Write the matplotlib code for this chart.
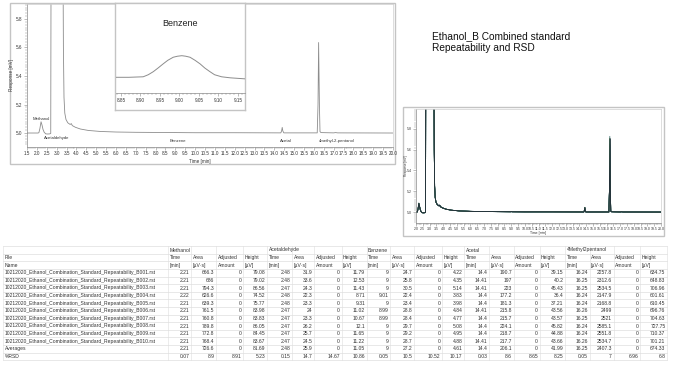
import matplotlib
matplotlib.use("Agg")
import matplotlib.pyplot as plt
from matplotlib.patches import Rectangle
from matplotlib.ticker import MultipleLocator, FormatStrFormatter

plt.rcParams['font.family'] = ['Liberation Sans', 'DejaVu Sans']

W, H = 673, 368

# ------------------------------------------------------------------ data
compounds = ["Methanol", "Acetaldehyde", "Benzene", "Acetal", "4Methyl2pentanol"]
sub_headers_1 = ["Time", "Area", "Adjusted", "Height"]
sub_headers_2 = ["[min]", "[µV·s]", "Amount", "[µV]"]

file_names = [
    "10212020_Ethanol_Combination_Standard_Repeatability_B001.rst",
    "10212020_Ethanol_Combination_Standard_Repeatability_B002.rst",
    "10212020_Ethanol_Combination_Standard_Repeatability_B003.rst",
    "10212020_Ethanol_Combination_Standard_Repeatability_B004.rst",
    "10212020_Ethanol_Combination_Standard_Repeatability_B005.rst",
    "10212020_Ethanol_Combination_Standard_Repeatability_B006.rst",
    "10212020_Ethanol_Combination_Standard_Repeatability_B007.rst",
    "10212020_Ethanol_Combination_Standard_Repeatability_B008.rst",
    "10212020_Ethanol_Combination_Standard_Repeatability_B009.rst",
    "10212020_Ethanol_Combination_Standard_Repeatability_B010.rst",
]

methanol_time = [2.21, 2.21, 2.21, 2.22, 2.21, 2.21, 2.21, 2.21, 2.21, 2.21]
methanol_area = [666.3, 686, 794.3, 626.6, 639.3, 761.5, 760.8, 789.8, 772.8, 768.4]
methanol_adj = [0, 0, 0, 0, 0, 0, 0, 0, 0, 0]
methanol_height = [79.08, 79.02, 86.56, 74.52, 75.77, 83.98, 83.83, 86.05, 84.45, 83.67]

acetaldehyde_time = [2.48, 2.48, 2.47, 2.48, 2.48, 2.47, 2.47, 2.47, 2.47, 2.47]
acetaldehyde_area = [31.9, 33.6, 24.3, 22.3, 23.3, 24, 23.3, 26.2, 25.7, 24.5]
acetaldehyde_adj = [0, 0, 0, 0, 0, 0, 0, 0, 0, 0]
acetaldehyde_height = [11.79, 12.53, 11.43, 8.71, 9.31, 11.02, 10.67, 12.1, 11.65, 11.22]

benzene_time = [9, 9, 9, 9.01, 9, 8.99, 8.99, 9, 9, 9]
benzene_area = [24.7, 25.8, 30.5, 22.4, 23.4, 28.8, 28.4, 29.7, 29.2, 28.7]
benzene_adj = [0, 0, 0, 0, 0, 0, 0, 0, 0, 0]
benzene_height = [4.22, 4.35, 5.14, 3.83, 3.98, 4.84, 4.77, 5.08, 4.95, 4.88]

acetal_time = [14.4, 14.41, 14.41, 14.4, 14.4, 14.41, 14.4, 14.4, 14.4, 14.41]
acetal_area = [190.7, 197, 223, 177.2, 181.3, 215.8, 215.7, 224.1, 218.7, 217.7]
acetal_adj = [0, 0, 0, 0, 0, 0, 0, 0, 0, 0]
acetal_height = [39.15, 40.2, 45.43, 36.4, 37.21, 43.56, 43.57, 45.82, 44.88, 43.66]

methylpentanol_time = [16.24, 16.25, 16.25, 16.24, 16.24, 16.26, 16.25, 16.24, 16.24, 16.26]
methylpentanol_area = [2257.8, 2312.6, 2534.5, 2147.9, 2168.8, 2499, 2521, 2585.1, 2551.8, 2534.7]
methylpentanol_adj = [0, 0, 0, 0, 0, 0, 0, 0, 0, 0]
methylpentanol_height = [634.75, 648.83, 706.96, 601.61, 610.45, 696.76, 704.63, 727.75, 710.37, 701.21]

averages_row = [2.21, 726.6, 0, 81.69, 2.48, 25.9, 0, 11.05, 9, 27.2, 0, 4.61,
                14.4, 206.1, 0, 41.99, 16.25, 2407.3, 0, 674.33]
rsd_row = [0.07, 8.9, 8.91, 5.23, 0.15, 14.7, 14.67, 10.86, 0.05, 10.5, 10.52, 10.17,
           0.03, 8.6, 8.65, 8.25, 0.05, 7, 6.96, 6.8]

# chromatogram trace (baseline, solvent peak and peak flanks), time [min] / response [mV]
chrom_t = [1.5, 2.05, 2.10, 2.15, 2.26, 2.31, 2.37, 2.45, 2.55, 2.65, 2.70,
           2.72, 3.31, 3.34, 3.37, 3.41, 3.47, 3.56, 3.68, 3.74, 3.79, 3.95,
           4.2, 4.6, 5.2, 6.0, 7.0, 8.0, 8.95, 9.05, 10.0, 12.0, 14.33, 14.37,
           14.43, 14.48, 16.17, 16.21, 16.28, 16.31, 16.36, 17.0, 17.1, 17.2, 20.0]
chrom_v = [5.000, 5.000, 5.002, 5.030, 5.055, 5.025, 5.005, 4.994, 4.993, 4.994, 4.997,
           6.5, 6.5, 5.60, 5.25, 5.14, 5.095, 5.072, 5.060, 5.066, 5.052, 5.040,
           5.028, 5.018, 5.011, 5.007, 5.005, 5.004, 5.003, 5.003, 5.002, 5.002, 5.001, 5.015,
           5.015, 5.001, 5.001, 5.20, 5.20, 5.010, 5.003, 5.001, 5.003, 5.001, 5.000]

# benzene close-up (inset)
benz_t = [8.836, 8.870, 8.907, 8.920, 8.933, 8.945, 8.958, 8.970, 8.984, 8.995,
          9.006, 9.016, 9.027, 9.040, 9.053, 9.065, 9.078, 9.090, 9.108, 9.130, 9.168]
benz_v = [5.0000, 5.0000, 5.0001, 5.0005, 5.0011, 5.0018, 5.0026, 5.0033, 5.0039, 5.0041,
          5.0042, 5.0041, 5.0039, 5.0033, 5.0026, 5.0018, 5.0011, 5.0005, 5.0001, 4.9999, 4.9997]

# ------------------------------------------------------------------ helpers
fig = plt.figure(figsize=(W / 100, H / 100), dpi=100)
fig.patch.set_facecolor("white")


def px_axes(x0, y0, x1, y1, **kw):
    return fig.add_axes([x0 / W, 1 - y1 / H, (x1 - x0) / W, (y1 - y0) / H], **kw)


ov = px_axes(0, 0, W, H)
ov.set_xlim(0, W)
ov.set_ylim(H, 0)
ov.axis("off")

AX = "#8a8a8a"
TXT = "#333333"


def run_trace(i):
    pts = list(zip(chrom_t, chrom_v))
    for times, heights in [(methanol_time, methanol_height), (benzene_time, benzene_height),
                           (acetal_time, acetal_height), (methylpentanol_time, methylpentanol_height)]:
        pts.append((times[i], 5.0 + heights[i] / 1000.0))
    pts.sort()
    return [p[0] for p in pts], [p[1] for p in pts]


def style_chrom(ax, xmaj, ymaj, ymin_loc, fs, pad=1.2):
    ax.set_facecolor("none")
    ax.xaxis.set_major_locator(MultipleLocator(xmaj))
    ax.xaxis.set_minor_locator(MultipleLocator(0.1))
    ax.xaxis.set_major_formatter(FormatStrFormatter("%.1f"))
    ax.yaxis.set_major_locator(MultipleLocator(ymaj))
    ax.yaxis.set_minor_locator(MultipleLocator(ymin_loc))
    ax.yaxis.set_major_formatter(FormatStrFormatter("%.1f"))
    ax.tick_params(which="major", length=2.2, width=0.4, color=AX, labelsize=fs,
                   labelcolor=TXT, pad=pad)
    ax.tick_params(which="minor", length=1.1, width=0.3, color=AX)
    for s in ax.spines.values():
        s.set_color(AX)
        s.set_linewidth(0.5)
    ax.spines["top"].set_color("#d0d0d0")
    ax.spines["right"].set_color("#d0d0d0")


# ------------------------------------------------------------------ frames
ov.add_patch(Rectangle((10, 3), 385, 161, fill=False, ec="#c4c4c4", lw=1.0))
ov.add_patch(Rectangle((403, 107), 261, 129, fill=False, ec="#c4c4c4", lw=1.0))

# ------------------------------------------------------------------ main chromatogram
ax = px_axes(27, 4, 393, 146.7)
t, v = run_trace(0)
ax.plot(t, v, color="#8c8c8c", lw=0.6)
ax.set_xlim(1.5, 20.0)
ax.set_ylim(4.904, 5.905)
style_chrom(ax, 0.5, 0.2, 0.02, 3.3)

ov.text(12, 75, "Response [mV]", rotation=90, ha="center", va="center", fontsize=3.3, color=TXT)
ov.text(200, 161, "Time [min]", ha="center", va="center", fontsize=3.3, color=TXT)
peak_labels = ["Methanol", "Acetaldehyde", "Benzene", "Acetal", "4methyl-2-pentanol"]
peak_label_xy = [(41, 118.5), (57, 137.5), (178, 141), (285.5, 141), (337, 141)]
for lab, (lx, ly) in zip(peak_labels, peak_label_xy):
    ov.text(lx, ly, lab, ha="center", va="center", fontsize=3.1, color=TXT)

# ------------------------------------------------------------------ inset (benzene)
ibg = px_axes(115, 3, 245, 110)
ibg.set_xticks([])
ibg.set_yticks([])
ibg.set_facecolor("white")
for s in ibg.spines.values():
    s.set_color("#c4c4c4")
    s.set_linewidth(1.0)

ia = px_axes(115.5, 4, 245, 93.3)
ia.set_facecolor("none")
ia.plot(benz_t, benz_v, color="#8c8c8c", lw=0.7)
ia.set_xlim(8.836, 9.168)
ia.set_ylim(4.99689, 5.01425)
ia.xaxis.set_major_locator(MultipleLocator(0.05))
ia.xaxis.set_minor_locator(MultipleLocator(0.01))
ia.xaxis.set_major_formatter(FormatStrFormatter("%.2f"))
ia.set_yticks([])
for side in ["left", "right", "top"]:
    ia.spines[side].set_visible(False)
ia.spines["bottom"].set_color(AX)
ia.spines["bottom"].set_linewidth(0.5)
ia.tick_params(which="major", length=2.2, width=0.4, color=AX, labelsize=3.3, labelcolor=TXT, pad=1.2)
ia.tick_params(which="minor", length=1.2, width=0.3, color=AX)
ia.text(0.5, 0.78, "Benzene", transform=ia.transAxes, ha="center", va="center", fontsize=6.5, color="#222222")
ov.text(180, 107.5, "Time [min]", ha="center", va="center", fontsize=3.0, color=TXT)

# ------------------------------------------------------------------ title block
ov.text(432, 36, "Ethanol_B Combined standard", ha="left", va="center", fontsize=7.3, color="#111111")
ov.text(432, 48, "Repeatability and RSD", ha="left", va="center", fontsize=7.3, color="#111111")

# ------------------------------------------------------------------ overlaid runs
ra = px_axes(416, 109, 661, 223)
run_colors = ["#8a8a8a", "#3d7a5e", "#2e3b55", "#5a8f7b", "#1f4e79",
              "#6b8f71", "#24324a", "#3c6e71", "#4a7a4a", "#1c2235"]
for i in range(len(file_names)):
    t, v = run_trace(i)
    ra.plot(t, v, color=run_colors[i], lw=0.55)
ra.set_xlim(2.0, 20.0)
ra.set_ylim(4.895, 5.99)
style_chrom(ra, 0.5, 0.2, 0.02, 2.5, pad=0.8)
ov.text(406.2, 166, "Response [mV]", rotation=90, ha="center", va="center", fontsize=2.2, color=TXT)
ov.text(538, 233, "Time [min]", ha="center", va="center", fontsize=2.5, color=TXT)

# ------------------------------------------------------------------ table
col_edges = [3, 168, 191, 216, 243, 267, 292, 314, 341.5, 366.5, 390, 414, 442,
             464, 489, 513.5, 539.5, 565, 589.5, 613.5, 640, 667]
row_top = 246.2
row_h = 7.6
n_rows = 15
FS = 3.6


def row_c(r):
    return row_top + row_h * (r + 0.5)


for r in range(n_rows + 1):
    ov.plot([col_edges[0], col_edges[-1]], [row_top + r * row_h] * 2, color="#d6d6d6", lw=0.4)
for xe in col_edges:
    ov.plot([xe, xe], [row_top, row_top + n_rows * row_h], color="#dedede", lw=0.4)

ov.text(col_edges[0] + 1.5, row_c(1), "File", ha="left", va="center", fontsize=FS, color=TXT)
ov.text(col_edges[0] + 1.5, row_c(2), "Name", ha="left", va="center", fontsize=FS, color=TXT)
for g, name in enumerate(compounds):
    c0 = 1 + 4 * g
    ov.text(col_edges[c0] + 1.5, row_c(0), name, ha="left", va="center", fontsize=FS, color=TXT)
    for k in range(4):
        ov.text(col_edges[c0 + k] + 1.5, row_c(1), sub_headers_1[k], ha="left", va="center", fontsize=FS, color=TXT)
        ov.text(col_edges[c0 + k] + 1.5, row_c(2), sub_headers_2[k], ha="left", va="center", fontsize=FS, color=TXT)

columns = [methanol_time, methanol_area, methanol_adj, methanol_height,
           acetaldehyde_time, acetaldehyde_area, acetaldehyde_adj, acetaldehyde_height,
           benzene_time, benzene_area, benzene_adj, benzene_height,
           acetal_time, acetal_area, acetal_adj, acetal_height,
           methylpentanol_time, methylpentanol_area, methylpentanol_adj, methylpentanol_height]


def fmt(x):
    return f"{x:g}"


for i, fname in enumerate(file_names):
    ov.text(col_edges[0] + 1.5, row_c(3 + i), fname, ha="left", va="center", fontsize=FS, color=TXT)
    for c, col in enumerate(columns):
        ov.text(col_edges[c + 2] - 1.5, row_c(3 + i), fmt(col[i]), ha="right", va="center", fontsize=FS, color=TXT)

ov.text(col_edges[0] + 1.5, row_c(13), "Averages", ha="left", va="center", fontsize=FS, color=TXT)
ov.text(col_edges[0] + 1.5, row_c(14), "%RSD", ha="left", va="center", fontsize=FS, color=TXT)
for c in range(20):
    ov.text(col_edges[c + 2] - 1.5, row_c(13), fmt(averages_row[c]), ha="right", va="center", fontsize=FS, color=TXT)
    ov.text(col_edges[c + 2] - 1.5, row_c(14), fmt(rsd_row[c]), ha="right", va="center", fontsize=FS, color=TXT)

fig.savefig("out.png", dpi=100, facecolor="white")
